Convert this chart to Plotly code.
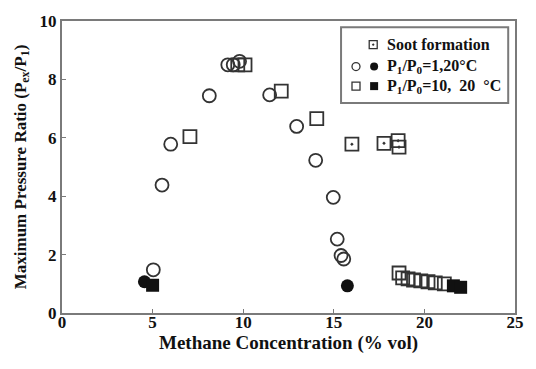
import plotly.graph_objects as go

# ---- data ----
open_circle_x = [5.04, 5.52, 6.0, 8.13, 9.15, 9.45, 9.8, 11.46, 12.95, 14.0, 14.97, 15.19, 15.4, 15.55]
open_circle_y = [1.48, 4.38, 5.78, 7.44, 8.5, 8.5, 8.62, 7.47, 6.39, 5.23, 3.96, 2.53, 1.97, 1.85]

filled_circle_x = [4.55, 15.75]
filled_circle_y = [1.07, 0.93]

open_square_x = [7.06, 9.7, 10.1, 12.1, 14.06, 18.6, 18.8, 19.1, 19.4, 19.8, 20.2, 20.6, 21.1]
open_square_y = [6.04, 8.5, 8.5, 7.6, 6.66, 1.37, 1.2, 1.17, 1.13, 1.1, 1.07, 1.03, 1.0]

filled_square_x = [5.0, 21.6, 22.0]
filled_square_y = [0.95, 0.93, 0.88]

soot_x = [16.0, 17.77, 18.55, 18.6]
soot_y = [5.78, 5.81, 5.9, 5.68]

x_ticks = [0, 5, 10, 15, 20, 25]
y_ticks = [0, 2, 4, 6, 8, 10]

x_title = "Methane Concentration (% vol)"
y_title = "Maximum Pressure Ratio (P<sub>ex</sub>/P<sub>1</sub>)"
legend_labels = ["Soot formation", "P<sub>1</sub>/P<sub>0</sub>=1,20°C", "P<sub>1</sub>/P<sub>0</sub>=10,  20  °C"]

FONT = "Liberation Serif"
DARK = "#333333"
AXIS = "#7a7a7a"
TXT = "#111111"

fig = go.Figure()

def add(x, y, symbol, size, fill=None, lw=1.8, xa="x", ya="y"):
    fig.add_trace(go.Scatter(
        x=x, y=y, mode="markers", showlegend=False, xaxis=xa, yaxis=ya,
        marker=dict(symbol=symbol, size=size, color=fill if fill else DARK,
                    line=dict(color=DARK if not fill else fill, width=lw)),
        hoverinfo="skip"))

add(open_circle_x, open_circle_y, "circle-open", 13)
add(open_square_x, open_square_y, "square-open", 13)
add(soot_x, soot_y, "square-open-dot", 13)
add(filled_circle_x, filled_circle_y, "circle", 13, fill="#111111", lw=0)
add(filled_square_x, filled_square_y, "square", 13, fill="#111111", lw=0)

# ---- custom legend (on an overlay axis spanning paper coordinates) ----
leg_rows_y = [0.919, 0.844, 0.777]
add([0.687], [leg_rows_y[0]], "square-open-dot", 8, lw=1.3, xa="x2", ya="y2")
add([0.649], [leg_rows_y[1]], "circle-open", 8, lw=1.3, xa="x2", ya="y2")
add([0.689], [leg_rows_y[1]], "circle", 8, fill="#111111", lw=0, xa="x2", ya="y2")
add([0.649], [leg_rows_y[2]], "square-open", 8, lw=1.3, xa="x2", ya="y2")
add([0.689], [leg_rows_y[2]], "square", 8, fill="#111111", lw=0, xa="x2", ya="y2")

annotations = []
for lab, yy in zip(legend_labels, leg_rows_y):
    annotations.append(dict(x=0.712, y=yy, xref="paper", yref="paper", text="<b>" + lab + "</b>",
                            showarrow=False, xanchor="left", yanchor="middle",
                            font=dict(family=FONT, size=16, color=TXT)))
annotations.append(dict(x=0.5, y=-0.102, xref="paper", yref="paper", text="<b>" + x_title + "</b>",
                        showarrow=False, xanchor="center", yanchor="middle",
                        font=dict(family=FONT, size=19, color=TXT)))

shapes = [dict(type="rect", xref="paper", yref="paper", x0=0.616, x1=0.985, y0=0.719, y1=0.979,
               line=dict(color=AXIS, width=2), fillcolor="rgba(0,0,0,0)")]

tickfont = dict(family=FONT, size=17, color=TXT)

fig.update_layout(
    width=536, height=369,
    margin=dict(l=62, r=16, t=17, b=56),
    paper_bgcolor="white", plot_bgcolor="white",
    font=dict(family=FONT, size=17, color=TXT),
    annotations=annotations, shapes=shapes,
    xaxis=dict(range=[0, 25], tickvals=x_ticks, ticktext=["<b>%d</b>" % v for v in x_ticks],
               ticks="inside", ticklen=4, tickcolor=AXIS, ticklabelstandoff=-7,
               showline=True, linecolor=AXIS, linewidth=2, mirror=True, showgrid=False,
               zeroline=False, tickfont=tickfont),
    yaxis=dict(range=[0, 10], tickvals=y_ticks, ticktext=["<b>%d</b>" % v for v in y_ticks],
               ticks="inside", ticklen=4, tickcolor=AXIS,
               showline=True, linecolor=AXIS, linewidth=2, mirror=True, showgrid=False,
               zeroline=False, tickfont=tickfont,
               title=dict(text="<b>" + y_title + "</b>", standoff=9,
                          font=dict(family=FONT, size=17, color=TXT))),
    xaxis2=dict(range=[0, 1], overlaying="x", visible=False, fixedrange=True),
    yaxis2=dict(range=[0, 1], overlaying="y", visible=False, fixedrange=True),
)

fig.write_html("out.html")
